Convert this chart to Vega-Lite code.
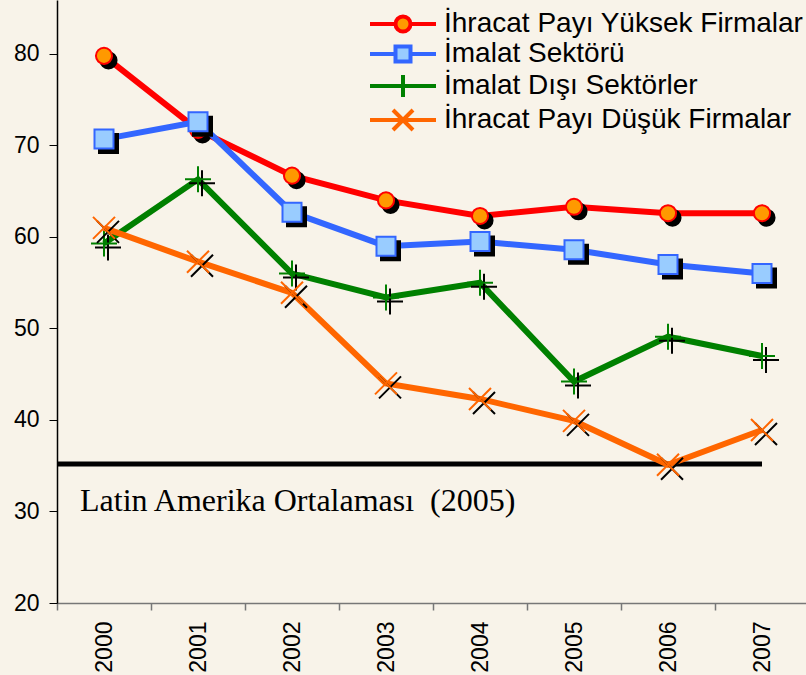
{
  "$schema": "https://vega.github.io/schema/vega-lite/v6.json",
  "width": 752,
  "height": 603,
  "autosize": {"type": "none"},
  "padding": {"left": 57, "top": 0, "right": 0, "bottom": 72},
  "background": "#F8F3E9",
  "config": {
    "view": {"stroke": null},
    "font": "Liberation Sans"
  },
  "data": {
    "values": [
      {"series": "İhracat Payı Yüksek Firmalar", "year": "2000", "value": 79.8},
      {"series": "İhracat Payı Yüksek Firmalar", "year": "2001", "value": 71.7},
      {"series": "İhracat Payı Yüksek Firmalar", "year": "2002", "value": 66.7},
      {"series": "İhracat Payı Yüksek Firmalar", "year": "2003", "value": 64.0},
      {"series": "İhracat Payı Yüksek Firmalar", "year": "2004", "value": 62.3},
      {"series": "İhracat Payı Yüksek Firmalar", "year": "2005", "value": 63.3},
      {"series": "İhracat Payı Yüksek Firmalar", "year": "2006", "value": 62.6},
      {"series": "İhracat Payı Yüksek Firmalar", "year": "2007", "value": 62.6},
      {"series": "İmalat Sektörü", "year": "2000", "value": 70.7},
      {"series": "İmalat Sektörü", "year": "2001", "value": 72.6},
      {"series": "İmalat Sektörü", "year": "2002", "value": 62.7},
      {"series": "İmalat Sektörü", "year": "2003", "value": 59.0},
      {"series": "İmalat Sektörü", "year": "2004", "value": 59.5},
      {"series": "İmalat Sektörü", "year": "2005", "value": 58.6},
      {"series": "İmalat Sektörü", "year": "2006", "value": 57.0},
      {"series": "İmalat Sektörü", "year": "2007", "value": 56.0},
      {"series": "İmalat Dışı Sektörler", "year": "2000", "value": 59.3},
      {"series": "İmalat Dışı Sektörler", "year": "2001", "value": 66.3},
      {"series": "İmalat Dışı Sektörler", "year": "2002", "value": 56.0},
      {"series": "İmalat Dışı Sektörler", "year": "2003", "value": 53.4},
      {"series": "İmalat Dışı Sektörler", "year": "2004", "value": 55.0},
      {"series": "İmalat Dışı Sektörler", "year": "2005", "value": 44.2},
      {"series": "İmalat Dışı Sektörler", "year": "2006", "value": 49.1},
      {"series": "İmalat Dışı Sektörler", "year": "2007", "value": 47.0},
      {"series": "İhracat Payı Düşük Firmalar", "year": "2000", "value": 61.0},
      {"series": "İhracat Payı Düşük Firmalar", "year": "2001", "value": 57.3},
      {"series": "İhracat Payı Düşük Firmalar", "year": "2002", "value": 53.9},
      {"series": "İhracat Payı Düşük Firmalar", "year": "2003", "value": 44.0},
      {"series": "İhracat Payı Düşük Firmalar", "year": "2004", "value": 42.3},
      {"series": "İhracat Payı Düşük Firmalar", "year": "2005", "value": 39.9},
      {"series": "İhracat Payı Düşük Firmalar", "year": "2006", "value": 35.1},
      {"series": "İhracat Payı Düşük Firmalar", "year": "2007", "value": 38.9}
    ]
  },
  "encoding": {
    "x": {
      "field": "year", "type": "ordinal",
      "scale": {"type": "band", "paddingInner": 0, "paddingOuter": 0, "domain": ["2000","2001","2002","2003","2004","2005","2006","2007"]},
      "axis": {
        "title": null, "labelAngle": 270, "labelFontSize": 23, "labelColor": "#000000",
        "labelPadding": 11, "tickSize": 7, "tickBand": "extent", "tickColor": "#777777", "tickWidth": 1.5,
        "domainColor": "#777777", "domainWidth": 1.5, "labelFont": "Liberation Sans"
      }
    },
    "y": {
      "field": "value", "type": "quantitative",
      "scale": {"domain": [20, 85.9], "nice": false, "zero": false},
      "axis": {
        "title": null, "values": [20, 30, 40, 50, 60, 70, 80], "grid": false,
        "labelFontSize": 23, "labelColor": "#000000", "labelPadding": 10, "tickSize": 8,
        "tickColor": "#000000", "domainColor": "#000000", "domainWidth": 1.5, "labelFont": "Liberation Sans"
      }
    }
  },
  "layer": [
    {
      "data": {"values": [{"label": "Latin Amerika Ortalaması  (2005)", "value": 35.2}]},
      "mark": {"type": "rule", "color": "#000000", "strokeWidth": 5},
      "encoding": {
        "x": {"datum": "2000", "bandPosition": 0},
        "x2": {"datum": "2007"},
        "y": {"field": "value", "type": "quantitative"}
      }
    },
    {
      "data": {"values": [{"label": "Latin Amerika Ortalaması\u00a0\u00a0(2005)", "value": 30.0}]},
      "mark": {"type": "text", "font": "Liberation Serif", "fontSize": 32, "align": "left", "baseline": "alphabetic", "dx": 23, "color": "#000000"},
      "encoding": {
        "x": {"datum": "2000", "bandPosition": 0},
        "y": {"field": "value", "type": "quantitative"},
        "text": {"field": "label"}
      }
    },
    {
      "transform": [{"filter": "datum.series === 'İhracat Payı Yüksek Firmalar'"}],
      "layer": [
        {"mark": {"type": "line", "color": "#FF0000", "strokeWidth": 6}, "encoding": {}},
        {"mark": {"type": "point", "shape": "circle", "filled": true, "fill": "#000000", "stroke": "#000000", "strokeWidth": 2, "size": 260, "opacity": 1, "xOffset": 4.5, "yOffset": 4.5}, "encoding": {}},
        {"mark": {"type": "point", "shape": "circle", "filled": true, "fill": "#FF9900", "stroke": "#FF0000", "strokeWidth": 2, "size": 260, "opacity": 1}, "encoding": {}}
      ]
    },
    {
      "transform": [{"filter": "datum.series === 'İmalat Sektörü'"}],
      "layer": [
        {"mark": {"type": "line", "color": "#3366FF", "strokeWidth": 6}, "encoding": {}},
        {"mark": {"type": "point", "shape": "square", "filled": true, "fill": "#000000", "stroke": "#000000", "strokeWidth": 2, "size": 361, "opacity": 1, "xOffset": 4.5, "yOffset": 4.5}, "encoding": {}},
        {"mark": {"type": "point", "shape": "square", "filled": true, "fill": "#99CCFF", "stroke": "#3366FF", "strokeWidth": 2, "size": 361, "opacity": 1}, "encoding": {}}
      ]
    },
    {
      "transform": [{"filter": "datum.series === 'İmalat Dışı Sektörler'"}],
      "layer": [
        {"mark": {"type": "line", "color": "#008000", "strokeWidth": 6}, "encoding": {}},
        {"mark": {"type": "point", "shape": "M-1,0H1M0,-1V1", "filled": false, "stroke": "#000000", "strokeWidth": 2, "size": 676, "opacity": 1, "xOffset": 4, "yOffset": 4}, "encoding": {}},
        {"mark": {"type": "point", "shape": "M-1,0H1M0,-1V1", "filled": false, "stroke": "#008000", "strokeWidth": 2, "size": 676, "opacity": 1}, "encoding": {}}
      ]
    },
    {
      "transform": [{"filter": "datum.series === 'İhracat Payı Düşük Firmalar'"}],
      "layer": [
        {"mark": {"type": "line", "color": "#FF6600", "strokeWidth": 6}, "encoding": {}},
        {"mark": {"type": "point", "shape": "M-1,-1L1,1M1,-1L-1,1", "filled": false, "stroke": "#000000", "strokeWidth": 2, "size": 484, "opacity": 1, "xOffset": 4, "yOffset": 4}, "encoding": {}},
        {"mark": {"type": "point", "shape": "M-1,-1L1,1M1,-1L-1,1", "filled": false, "stroke": "#FF6600", "strokeWidth": 2, "size": 484, "opacity": 1}, "encoding": {}}
      ]
    },
    {
      "mark": {"type": "point", "opacity": 0, "filled": true},
      "encoding": {
        "shape": {
          "field": "series", "type": "nominal",
          "scale": {
            "domain": ["İhracat Payı Yüksek Firmalar", "İmalat Sektörü", "İmalat Dışı Sektörler", "İhracat Payı Düşük Firmalar"],
            "range": [
              "M-3.3,0H-0.75M0.75,0H3.3M0.75,0A0.75,0.75 0 1,1 -0.75,0A0.75,0.75 0 1,1 0.75,0Z",
              "M-3.3,0H-0.75M0.75,0H3.3M-0.75,-0.75H0.75V0.75H-0.75Z",
              "M-3.3,0H3.3M0,-1.1V1.1",
              "M-3.3,0H3.3M-1,-1L1,1M1,-1L-1,1"
            ]
          },
          "legend": {
            "title": null, "orient": "none", "legendX": 332, "legendY": 10,
            "symbolSize": 400, "symbolStrokeWidth": 4, "symbolOpacity": 1,
            "labelFontSize": 28, "labelFont": "Liberation Sans", "labelColor": "#000000",
            "labelOffset": 27, "rowPadding": -3, "labelLimit": 500
          }
        },
        "stroke": {
          "field": "series", "type": "nominal",
          "scale": {
            "domain": ["İhracat Payı Yüksek Firmalar", "İmalat Sektörü", "İmalat Dışı Sektörler", "İhracat Payı Düşük Firmalar"],
            "range": ["#FF0000", "#3366FF", "#008000", "#FF6600"]
          },
          "legend": {
            "title": null, "orient": "none", "legendX": 332, "legendY": 10,
            "symbolSize": 400, "symbolStrokeWidth": 4, "symbolOpacity": 1,
            "labelFontSize": 28, "labelFont": "Liberation Sans", "labelColor": "#000000",
            "labelOffset": 27, "rowPadding": -3, "labelLimit": 500
          }
        },
        "fill": {
          "field": "series", "type": "nominal",
          "scale": {
            "domain": ["İhracat Payı Yüksek Firmalar", "İmalat Sektörü", "İmalat Dışı Sektörler", "İhracat Payı Düşük Firmalar"],
            "range": ["#FF9900", "#99CCFF", "#008000", "#FF6600"]
          },
          "legend": {
            "title": null, "orient": "none", "legendX": 332, "legendY": 10,
            "symbolSize": 400, "symbolStrokeWidth": 4, "symbolOpacity": 1,
            "labelFontSize": 28, "labelFont": "Liberation Sans", "labelColor": "#000000",
            "labelOffset": 27, "rowPadding": -3, "labelLimit": 500
          }
        }
      }
    }
  ]
}
